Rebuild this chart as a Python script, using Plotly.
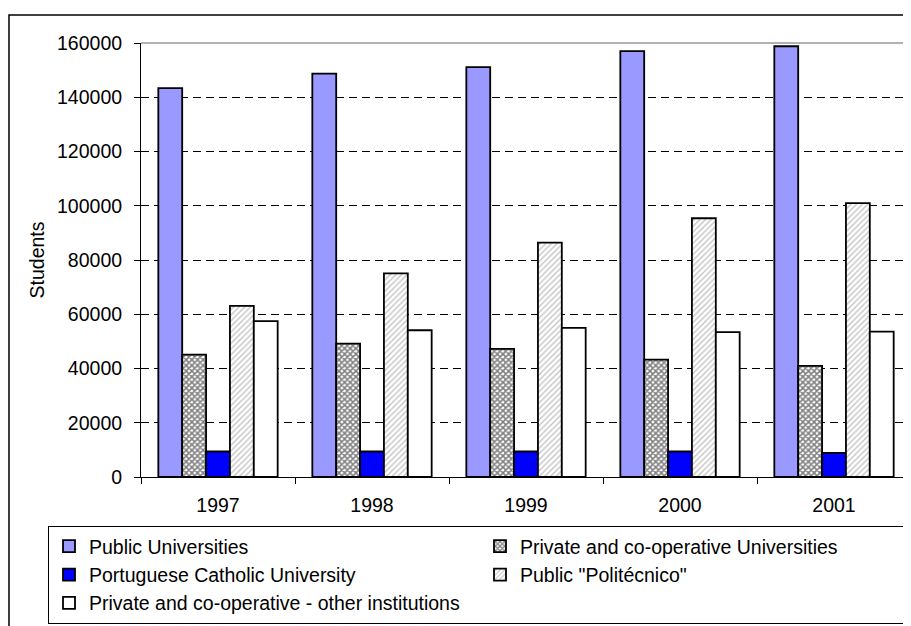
import plotly.graph_objects as go

years = ["1997", "1998", "1999", "2000", "2001"]
public_univ = [143400, 148700, 151100, 157000, 158800]
private_univ = [45100, 49200, 47200, 43300, 41000]
catholic_univ = [9400, 9400, 9400, 9400, 8900]
politecnico = [63100, 75100, 86400, 95400, 101000]
private_other = [57500, 54100, 55000, 53400, 53600]

series_names = [
    "Public Universities",
    "Private and co-operative Universities",
    "Portuguese Catholic University",
    'Public "Politécnico"',
    "Private and co-operative - other institutions",
]

FONT = "Liberation Sans, Arial, sans-serif"
FS = 19.5
# the page body adds an 8px margin; the figure is sized so it fits the window
OFF = 8
W, H = 911 - OFF, 626 - OFF
L, T = 141 - OFF, 43 - OFF
R = 0
B = H - (477 - OFF)
pw, ph = W - L - R, H - T - B

def px_x(x):
    return (x - OFF - L) / pw

def px_y(y):
    return (H - B - (y - OFF)) / ph

line = dict(color="black", width=1.8)
fig = go.Figure()
fig.add_bar(x=years, y=public_univ, name=series_names[0],
            marker=dict(color="#9999FF", line=line))
fig.add_bar(x=years, y=private_univ, name=series_names[1],
            marker=dict(color="white", line=line,
                        pattern=dict(shape="x", fgcolor="black", bgcolor="white",
                                     size=4, solidity=0.62)))
fig.add_bar(x=years, y=catholic_univ, name=series_names[2],
            marker=dict(color="#0000FF", line=line))
fig.add_bar(x=years, y=politecnico, name=series_names[3],
            marker=dict(color="white", line=line,
                        pattern=dict(shape="/", fgcolor="#8a8a8a", bgcolor="white",
                                     size=4, solidity=0.35)))
fig.add_bar(x=years, y=private_other, name=series_names[4],
            marker=dict(color="white", line=line))

fig.update_layout(
    width=W, height=H,
    margin=dict(l=L, r=R, t=T, b=B, autoexpand=False),
    paper_bgcolor="white", plot_bgcolor="white",
    font=dict(family=FONT, size=FS, color="black"),
    barmode="group", bargap=0.225, bargroupgap=0,
    showlegend=True,
    legend=dict(orientation="h", x=px_x(48), xanchor="left",
                y=px_y(526), yanchor="top",
                bordercolor="black", borderwidth=1, bgcolor="white",
                entrywidth=386, entrywidthmode="pixels",
                font=dict(family=FONT, size=FS, color="black"),
                traceorder="normal"),
    xaxis=dict(range=[-0.5, 4.5], showline=True, linecolor="black", linewidth=1,
               ticks="outside", tickson="boundaries", ticklen=6, tickcolor="black",
               showgrid=False, ticklabelstandoff=11,
               tickfont=dict(family=FONT, size=FS, color="black")),
    yaxis=dict(range=[0, 160000], dtick=20000, showline=True, linecolor="black",
               linewidth=1, ticks="outside", ticklen=6, tickcolor="black",
               showgrid=True, gridcolor="black", griddash="8px,5px", gridwidth=1,
               zeroline=False, tickformat="d", ticklabelstandoff=8,
               tickfont=dict(family=FONT, size=FS, color="black"),
               title=dict(text="Students", standoff=7,
                          font=dict(family=FONT, size=FS, color="black"))),
    shapes=[
        dict(type="line", xref="paper", yref="paper", x0=0, x1=1.05, y0=1, y1=1,
             line=dict(color="#999999", width=1.5), layer="above"),
        dict(type="rect", xref="paper", yref="paper",
             x0=px_x(9), x1=px_x(960), y0=px_y(15), y1=px_y(680),
             line=dict(color="black", width=1.5), fillcolor="rgba(0,0,0,0)",
             layer="above"),
    ],
)

fig.write_html("out.html")
